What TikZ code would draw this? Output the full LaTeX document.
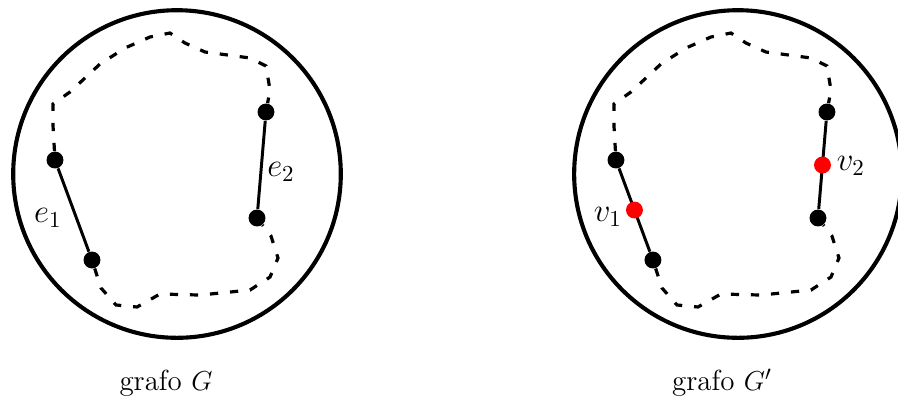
\documentclass[tikz,border=0pt]{standalone}
\usepackage{tikz}
\usetikzlibrary{calc}
\usepackage{amsmath,amssymb}

\begin{document}
\begin{tikzpicture}[
  vert/.style={circle, fill=black, inner sep=0pt, minimum size=0.26cm},
  redvert/.style={circle, fill=red, inner sep=0pt, minimum size=0.26cm},
  edgeline/.style={line width=1.3pt},
  boundary/.style={line width=1.4pt, dash pattern=on 3.6pt off 5.2pt},
  disk/.style={line width=1.8pt},
  lbl/.style={font=\Large},
  caption/.style={font=\fontsize{12.7pt}{15pt}\selectfont}]
  \useasboundingbox (-2.723,-3.523) rectangle (11.092,2.677);

  %% grafo G (left)
  \draw[disk] (0,0) circle (2.52);
  \node[vert] (a1) at (-1.877,0.215) {};
  \node[vert] (a2) at (-1.308,-1.323) {};
  \node[vert] (b1) at (1.369,0.954) {};
  \node[vert] (b2) at (1.231,-0.677) {};
  \draw[edgeline] (a1) -- (a2);
  \draw[edgeline] (b1) -- (b2);
  \draw[boundary] (a1) -- (-1.908,0.754) -- (-1.908,1.077) -- (-1.646,1.262)
    -- (-1.185,1.692) -- (-0.8,1.938) -- (-0.415,2.108) -- (-0.108,2.169)
    -- (0.123,2.015) -- (0.431,1.877) -- (1.123,1.785) -- (1.369,1.662)
    -- (1.431,1.292) -- (b1);
  \draw[boundary] (a2) -- (-1.169,-1.754) -- (-0.938,-2.015) -- (-0.615,-2.046)
    -- (-0.262,-1.846) -- (0.354,-1.862) -- (1.123,-1.785) -- (1.431,-1.585)
    -- (1.554,-1.292) -- (1.446,-0.954) -- (b2);
  \node[lbl] (e1) at (-1.985,-0.677) {$e_1$};
  \node[lbl] (e2) at (1.6,0.03) {$e_2$};
  \node[caption] (capG) at (-0.169,-3.215) {grafo $G$};

  %% grafo G' (right)
  \begin{scope}[xshift=8.63cm]
    \draw[disk] (0,0) circle (2.52);
    \node[vert] (c1) at (-1.877,0.215) {};
    \node[vert] (c2) at (-1.308,-1.323) {};
    \node[vert] (d1) at (1.369,0.954) {};
    \node[vert] (d2) at (1.231,-0.677) {};
    \draw[edgeline] (c1) -- (c2);
    \draw[edgeline] (d1) -- (d2);
    \draw[boundary] (c1) -- (-1.908,0.754) -- (-1.908,1.077) -- (-1.646,1.262)
      -- (-1.185,1.692) -- (-0.8,1.938) -- (-0.415,2.108) -- (-0.108,2.169)
      -- (0.123,2.015) -- (0.431,1.877) -- (1.123,1.785) -- (1.369,1.662)
      -- (1.431,1.292) -- (d1);
    \draw[boundary] (c2) -- (-1.169,-1.754) -- (-0.938,-2.015) -- (-0.615,-2.046)
      -- (-0.262,-1.846) -- (0.354,-1.862) -- (1.123,-1.785) -- (1.431,-1.585)
      -- (1.554,-1.292) -- (1.446,-0.954) -- (d2);
    \node[redvert] (v1) at ($(c1)!0.5!(c2)$) {};
    \node[redvert] (v2) at ($(d1)!0.5!(d2)$) {};
    \node[lbl] (v1l) at (-2.0,-0.66) {$v_1$};
    \node[lbl] (v2l) at (1.738,0.123) {$v_2$};
    \node[caption] (capH) at (-0.245,-3.215) {grafo $G'$};
  \end{scope}
\end{tikzpicture}
\end{document}
